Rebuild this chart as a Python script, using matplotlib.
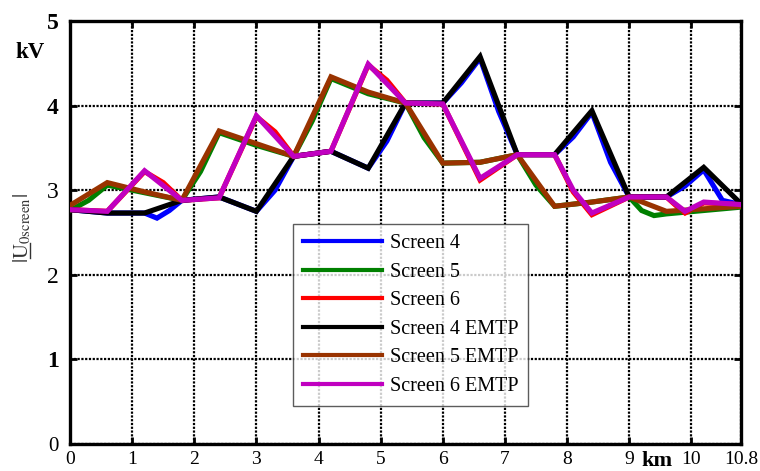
import matplotlib
matplotlib.use("Agg")
import matplotlib.pyplot as plt
from matplotlib.lines import Line2D
from matplotlib.font_manager import FontProperties

plt.rcParams['font.family'] = ['Liberation Serif', 'DejaVu Serif']
plt.rcParams['mathtext.fontset'] = 'stix'

# ---- data (km, kV) ----
x_emtp = [0, 0.6, 1.2, 1.8, 2.4, 3.0, 3.6, 4.2, 4.8, 5.4, 6.0, 6.6, 7.2, 7.8, 8.4, 9.0, 9.6, 10.2, 10.8]

s4_emtp = [2.77, 2.73, 2.73, 2.88, 2.92, 2.75, 3.40, 3.46, 3.26, 4.03, 4.03, 4.58, 3.42, 3.42, 3.94, 2.92, 2.92, 3.27, 2.84]
s5_emtp = [2.82, 3.09, 2.98, 2.88, 3.70, 3.55, 3.40, 4.34, 4.16, 4.03, 3.32, 3.33, 3.42, 2.81, 2.86, 2.92, 2.75, 2.78, 2.81]

x6_emtp = [0, 0.6, 1.2, 1.8, 2.4, 3.0, 3.6, 4.2, 4.8, 5.4, 6.0, 6.6, 7.2, 7.8, 8.1, 8.4, 9.0, 9.6, 9.9, 10.2, 10.8]
s6_emtp = [2.77, 2.75, 3.23, 2.88, 2.91, 3.88, 3.40, 3.46, 4.49, 4.03, 4.02, 3.14, 3.42, 3.42, 3.00, 2.73, 2.92, 2.92, 2.75, 2.86, 2.83]

x4 = [0, 0.6, 1.2, 1.4, 1.6, 1.8, 2.4, 3.0, 3.3, 3.6, 4.2, 4.8, 5.1, 5.4, 6.0, 6.3, 6.6, 6.9, 7.2, 7.8, 8.1, 8.4, 8.7, 9.0, 9.6, 9.9, 10.2, 10.5, 10.8]
s4 = [2.77, 2.73, 2.73, 2.67, 2.76, 2.88, 2.92, 2.75, 3.00, 3.40, 3.46, 3.26, 3.58, 4.03, 4.03, 4.27, 4.56, 3.93, 3.42, 3.42, 3.63, 3.92, 3.33, 2.92, 2.92, 3.05, 3.24, 2.88, 2.83]

x5 = [0, 0.3, 0.6, 1.2, 1.8, 2.1, 2.4, 3.0, 3.6, 3.9, 4.2, 4.8, 5.4, 5.7, 6.0, 6.6, 7.2, 7.5, 7.8, 8.4, 9.0, 9.2, 9.4, 9.6, 10.2, 10.8]
s5 = [2.76, 2.88, 3.06, 2.97, 2.88, 3.22, 3.68, 3.53, 3.40, 3.82, 4.32, 4.14, 4.03, 3.62, 3.32, 3.33, 3.42, 3.06, 2.81, 2.86, 2.92, 2.76, 2.70, 2.72, 2.76, 2.80]

x6 = [0, 0.6, 1.2, 1.5, 1.8, 2.4, 3.0, 3.3, 3.6, 4.2, 4.8, 5.1, 5.4, 6.0, 6.6, 7.2, 7.8, 8.1, 8.4, 9.0, 9.6, 9.75, 9.9, 10.2, 10.8]
s6 = [2.77, 2.75, 3.22, 3.09, 2.88, 2.91, 3.87, 3.69, 3.40, 3.46, 4.48, 4.30, 4.03, 4.02, 3.12, 3.42, 3.42, 2.98, 2.71, 2.92, 2.92, 2.82, 2.73, 2.85, 2.83]

labels = ['Screen 4', 'Screen 5', 'Screen 6', 'Screen 4 EMTP', 'Screen 5 EMTP', 'Screen 6 EMTP']
colors = ['#0000ff', '#008000', '#ff0000', '#000000', '#993300', '#c000c0']

xticks = [0, 1, 2, 3, 4, 5, 6, 7, 8, 9, 10, 10.8]
xticklabels = ['0', '1', '2', '3', '4', '5', '6', '7', '8', '9', '10', '10.8']
yticks = [0, 1, 2, 3, 4, 5]
yticklabels = ['0', '1', '2', '3', '4', '5']

W, H = 760, 471
fig = plt.figure(figsize=(W / 100, H / 100), dpi=100)
ax = fig.add_axes([70 / W, 27 / H, 671 / W, 423 / H])

series = [(x4, s4), (x5, s5), (x6, s6), (x_emtp, s4_emtp), (x_emtp, s5_emtp), (x6_emtp, s6_emtp)]
for (xs, ys), lab, col in zip(series, labels, colors):
    ax.plot(xs, ys, color=col, lw=3.7, label=lab, solid_joinstyle='miter', zorder=3)

ax.set_xlim(0, 10.8)
ax.set_ylim(0, 5)
ax.set_xticks(xticks)
ax.set_xticklabels(xticklabels, fontsize=14)
ax.set_yticks(yticks)
ax.set_yticklabels(yticklabels, fontsize=17)
for t in ax.get_yticklabels():
    if t.get_text() in ('1', '4', '5'):
        t.set_fontweight('bold')
    if t.get_text() == '0':
        t.set_fontsize(15)

ax.grid(True, color='black', linestyle=(0, (1, 0.7)), linewidth=1.6, zorder=1)
ax.tick_params(direction='in', length=5, width=2, top=True, right=True)
ax.tick_params(axis='x', pad=5)
ax.tick_params(axis='y', pad=8)
for sp in ax.spines.values():
    sp.set_linewidth(2.4)

leg = ax.legend(loc='upper left', bbox_to_anchor=((293 - 70) / 671, (444 - 224) / 423),
                fontsize=14.5, frameon=True, fancybox=False, edgecolor='#333333',
                handlelength=3.9, handletextpad=0.4, borderpad=0.5, labelspacing=0.47,
                borderaxespad=0)
leg.get_frame().set_linewidth(1.0)
for line in leg.get_lines():
    line.set_linewidth(3.0)

fig.text(30 / W, 1 - 53 / H, 'kV', fontsize=16.5, fontweight='bold', ha='center', va='center')
fig.text(657 / W, 1 - 466 / H, 'km', fontsize=16, fontweight='bold', ha='center', va='baseline')

ylab_str = r'$|\mathrm{U}_{\mathrm{0screen}}|$'
ylab_fs = 15
ylab = fig.text(22 / W, 1 - 228 / H, ylab_str, fontsize=ylab_fs,
                rotation=90, ha='center', va='center', color='#333333')

# underline the U of the y label
fig.canvas.draw()
r = fig.canvas.get_renderer()
bb = ylab.get_window_extent(r)
fp = FontProperties(family=plt.rcParams['font.family'], size=ylab_fs)
w_bar, _, _ = r.get_text_width_height_descent(r'$|$', fp, ismath=True)
w_u, _, _ = r.get_text_width_height_descent(r'$|\mathrm{U}$', fp, ismath=True)
_, h_full, d_full = r.get_text_width_height_descent(ylab_str, fp, ismath=True)
xb = bb.x1 - d_full + 2.0
fig.add_artist(Line2D([xb / W, xb / W], [(bb.y0 + w_bar + 0.5) / H, (bb.y0 + w_u - 0.5) / H],
                      transform=fig.transFigure, color='#333333', lw=1.0))

fig.savefig('out.png', dpi=100)
